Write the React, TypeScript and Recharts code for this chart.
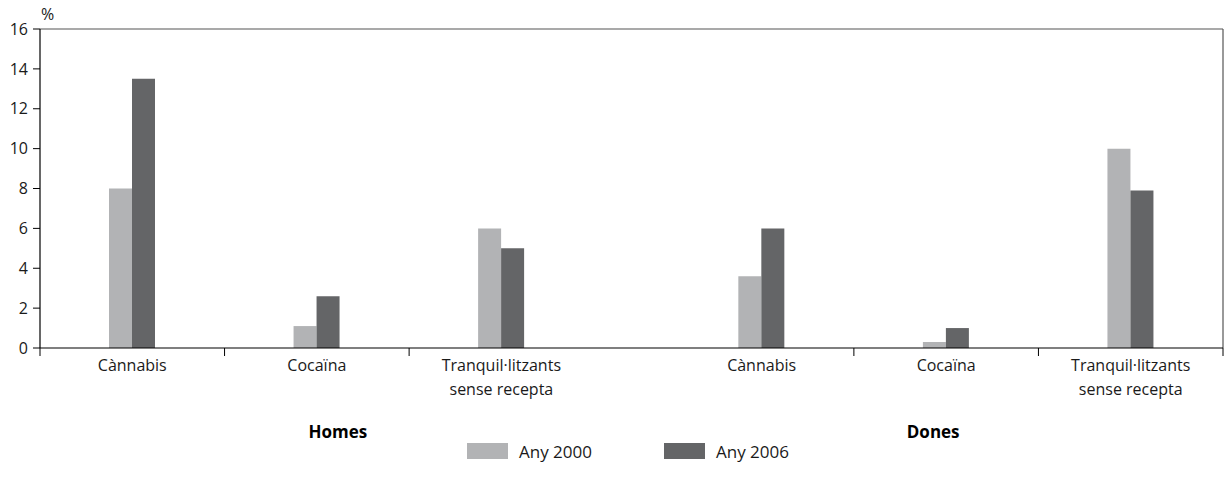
import React from 'react'
import {
  BarChart,
  Bar,
  XAxis,
  YAxis,
  Legend,
  ReferenceLine,
} from 'recharts'

// Values (%)
const categories = [
  'Cànnabis',
  'Cocaïna',
  'Tranquil·litzants\nsense recepta',
  'Cànnabis',
  'Cocaïna',
  'Tranquil·litzants\nsense recepta',
]
const groups = ['Homes', 'Dones']
const any2000 = [8.0, 1.1, 6.0, 3.6, 0.3, 10.0]
const any2006 = [13.5, 2.6, 5.0, 6.0, 1.0, 7.9]
const seriesNames = ['Any 2000', 'Any 2006']
const yTicks = [0, 2, 4, 6, 8, 10, 12, 14, 16]

const LIGHT = '#b2b3b5'
const DARK = '#646567'
const FONT = '"Open Sans", "Noto Sans", sans-serif'
const TEXT = '#1a1a1a'

// extra space between the Homes and Dones blocks (in category widths)
const GAP = 0.41
const PER_GROUP = 3
const xMax = categories.length + GAP

const xOf = (i: number) => i + 0.5 + (i >= PER_GROUP ? GAP : 0)
const centers = categories.map((_, i) => xOf(i))
const boundaries = [0, 1, 2, 4 + GAP, 5 + GAP, 6 + GAP]
const GROUP_LABEL_DX = [21, -13]

const data = categories.map((name, i) => ({
  name,
  x: xOf(i),
  a2000: any2000[i],
  a2006: any2006[i],
}))

function CategoryTick(props: any) {
  const { x, y, payload } = props
  const idx = centers.indexOf(payload.value)
  if (idx < 0) {
    return <line x1={x} x2={x} y1={y - 8} y2={y} stroke="#000" strokeWidth={1} />
  }
  const lines = categories[idx].split('\n')
  const isMiddle = idx % PER_GROUP === 1
  const g = Math.floor(idx / PER_GROUP)
  return (
    <g>
      <text x={x} y={y} textAnchor="middle" fontFamily={FONT} fontSize={16} fill={TEXT}>
        {lines.map((l, k) => (
          <tspan key={k} x={x} y={y + 15 + k * 24}>{l}</tspan>
        ))}
      </text>
      {isMiddle && (
        <text
          x={x + GROUP_LABEL_DX[g]}
          y={y + 82}
          textAnchor="middle"
          fontFamily={FONT}
          fontSize={17}
          fontWeight="bold"
          fill="#000"
        >
          {groups[g]}
        </text>
      )}
    </g>
  )
}

function LegendContent() {
  const colors = [LIGHT, DARK]
  return (
    <div style={{ display: 'flex', alignItems: 'center', height: 30, paddingLeft: 467, fontFamily: FONT, fontSize: 17, color: TEXT }}>
      {seriesNames.map((n, i) => (
        <div key={n} style={{ display: 'flex', alignItems: 'center', width: 197 }}>
          <span style={{ display: 'inline-block', width: 41, height: 16, background: colors[i], marginRight: 11 }} />
          <span>{n}</span>
        </div>
      ))}
    </div>
  )
}

export default function App() {
  return (
    <div style={{ position: 'absolute', left: 0, top: 0, width: 1225, height: 489, background: '#fff' }}>
      <BarChart
        width={1225}
        height={489}
        data={data}
        margin={{ top: 29, right: 2, bottom: 23, left: 0 }}
        barGap={0}
      >
        <XAxis
          type="number"
          dataKey="x"
          domain={[0, xMax]}
          ticks={[...boundaries, ...centers]}
          interval={0}
          height={88}
          tickSize={8}
          tickMargin={0}
          tickLine={false}
          axisLine={{ stroke: '#000', strokeWidth: 1.2 }}
          tick={<CategoryTick />}
        />
        <YAxis
          domain={[0, 16]}
          ticks={yTicks}
          interval={0}
          width={40}
          tickSize={7}
          tickMargin={5}
          axisLine={{ stroke: '#000', strokeWidth: 1.2 }}
          tickLine={{ stroke: '#000' }}
          tick={{ fontFamily: FONT, fontSize: 16, fill: TEXT }}
        />
        <ReferenceLine
          y={16}
          stroke="#555"
          strokeWidth={1.2}
          label={(p: any) => (
            <text x={p.viewBox.x + 1} y={p.viewBox.y - 9} fontFamily={FONT} fontSize={16} fill={TEXT}>%</text>
          )}
        />
        <ReferenceLine x={xMax} stroke="#555" strokeWidth={1.2} />
        <Legend verticalAlign="bottom" height={30} content={<LegendContent />} />
        <Bar dataKey="a2000" name={seriesNames[0]} fill={LIGHT} barSize={23} isAnimationActive={false} />
        <Bar dataKey="a2006" name={seriesNames[1]} fill={DARK} barSize={23} isAnimationActive={false} />
      </BarChart>
    </div>
  )
}
